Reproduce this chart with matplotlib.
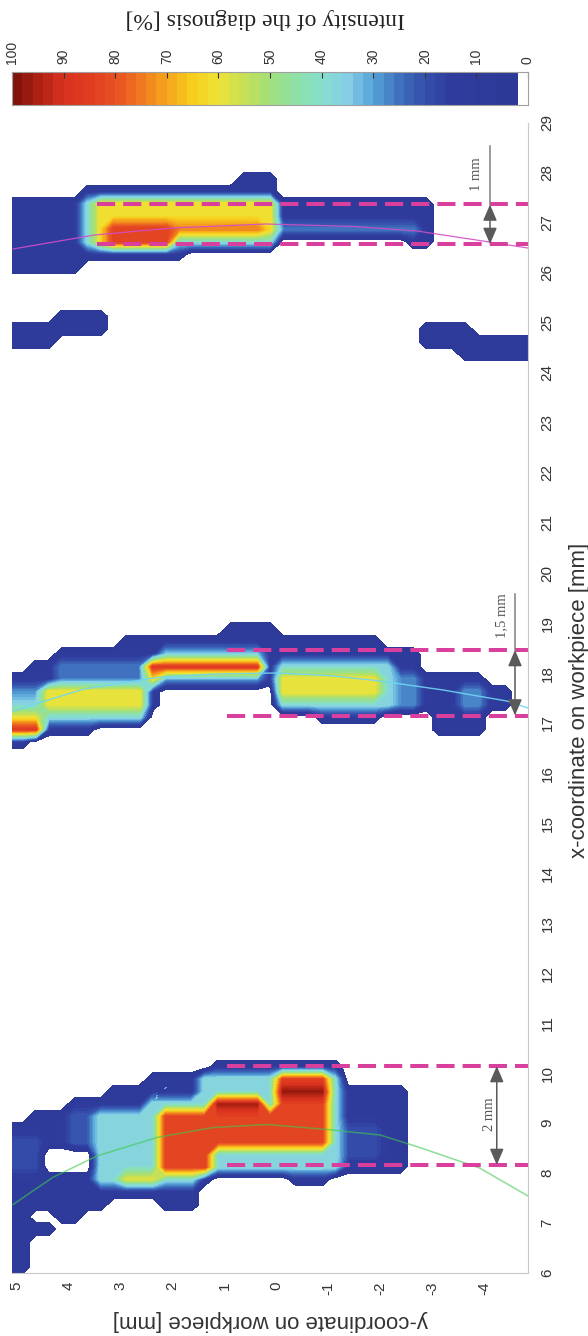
import numpy as np
import matplotlib
matplotlib.use('Agg')
import matplotlib.pyplot as plt
from matplotlib.colors import LinearSegmentedColormap, ListedColormap, BoundaryNorm

plt.rcParams['font.family'] = ['Liberation Sans', 'DejaVu Sans']
plt.rcParams['axes.unicode_minus'] = False

# intensity patches: (x from, x to, y from, y to, intensity %)
weld1_blocks = [
    (6.0, 8.9, 4.65, 5.5, 12), (6.75, 9.2, 4.35, 4.65, 12), (7.0, 9.2, 3.95, 4.35, 12),
    (7.0, 9.45, 3.7, 3.95, 12), (7.25, 9.45, 3.2, 3.7, 12), (7.5, 9.7, 2.5, 3.2, 12),
    (7.5, 10.0, 2.2, 2.5, 12), (7.3, 10.0, 1.45, 2.2, 12), (7.75, 10.0, 1.2, 1.45, 12),
    (8.05, 10.2, -0.26, 1.2, 12), (7.74, 10.2, -0.93, -0.26, 12), (8.05, 10.2, -1.18, -0.93, 12),
    (8.05, 9.7, -2.43, -1.18, 12),
    (7.95, 8.75, 4.55, 5.5, 19), (8.5, 9.3, 3.3, 4.0, 22), (8.3, 9.0, -1.9, -1.1, 19),
    (7.65, 9.3, 2.5, 3.5, 38), (7.65, 9.6, 1.4, 2.5, 38), (8.1, 9.9, 0.06, 1.4, 38),
    (8.1, 10.05, -1.15, 0.06, 38),
    (7.7, 8.1, 2.3, 3.0, 58),
    (8.1, 9.35, 1.3, 2.3, 83), (8.45, 9.3, 0.1, 1.3, 83), (8.45, 9.9, -1.05, 0.1, 83),
    (9.4, 9.85, -1.0, -0.1, 97), (9.3, 9.45, 0.25, 1.35, 95),
]
weld2_blocks = [
    (16.55, 17.9, 4.7, 5.5, 12), (16.75, 18.2, 4.3, 4.7, 12), (16.8, 18.44, 3.6, 4.3, 12),
    (17.0, 18.44, 3.1, 3.6, 12), (17.17, 18.71, 2.2, 3.1, 12), (17.77, 18.71, 0.9, 2.2, 12),
    (17.77, 18.94, 0.1, 0.9, 12), (17.24, 18.65, -0.77, 0.1, 12), (16.97, 18.65, -2.0, -0.77, 12),
    (17.17, 18.5, -2.7, -2.0, 12), (17.17, 17.97, -3.0, -2.7, 12), (16.8, 17.97, -4.1, -3.0, 12),
    (17.17, 17.7, -4.42, -4.1, 12),
    (16.75, 17.5, 4.5, 5.5, 36), (17.0, 17.25, 4.5, 5.5, 58), (16.75, 17.0, 4.6, 5.5, 85),
    (17.5, 17.85, 4.5, 5.5, 28),
    (17.0, 17.8, 2.4, 4.6, 38), (17.25, 17.7, 2.5, 4.5, 60), (17.75, 18.2, 2.5, 4.3, 26),
    (17.7, 18.2, 2.3, 2.6, 60),
    (18.0, 18.25, 0.2, 2.4, 85), (17.75, 18.0, 0.2, 2.3, 28), (18.25, 18.5, 0.3, 2.3, 34),
    (17.25, 18.2, -2.2, 0.1, 38), (17.5, 17.95, -2.1, 0.0, 60),
    (17.25, 17.9, -2.7, -2.0, 28), (17.25, 17.7, -4.1, -3.4, 28),
]
weld3_blocks = [
    (25.97, 27.41, 3.85, 5.5, 12), (26.24, 27.64, 1.75, 3.85, 12), (26.57, 27.64, 0.7, 1.75, 12),
    (26.57, 27.91, 0.06, 0.7, 12), (26.71, 27.4, -2.5, 0.06, 12), (26.5, 27.4, -3.1, -2.5, 12),
    (26.6, 27.4, 0.1, 3.65, 38), (26.85, 27.4, 0.1, 3.6, 62), (26.6, 27.4, 3.2, 3.6, 62),
    (26.5, 27.0, 2.1, 3.2, 84), (26.75, 27.0, 0.2, 2.1, 74), (26.85, 27.1, -2.7, 0.06, 26),
    (24.44, 24.91, 4.15, 5.5, 12), (24.77, 25.17, 3.26, 4.15, 12),
    (24.5, 24.9, -3.87, -2.76, 12), (24.28, 24.64, -5.0, -3.48, 12),
]
empty_holes = [(7.9, 8.5, 3.45, 4.48), (7.05, 7.35, 4.2, 4.85)]

# fitted seam curves (y, x)
fit1_y = [5.06, 4.3, 3.45, 2.3, 1.22, 0.18, -0.97, -1.99, -2.75, -3.9, -4.83]
fit1_x = [7.37, 7.91, 8.34, 8.71, 8.91, 8.97, 8.87, 8.76, 8.51, 8.1, 7.54]
fit2_y = [5.06, 3.7, 2.3, 1.2, 0.0, -1.0, -1.99, -3.2, -4.42, -4.83]
fit2_x = [17.24, 17.68, 17.91, 17.98, 18.0, 17.95, 17.84, 17.66, 17.44, 17.3]
fit3_y = [5.06, 3.5, 1.99, 0.2, -1.5, -2.7, -3.9, -4.83]
fit3_x = [26.48, 26.76, 26.9, 26.98, 26.93, 26.84, 26.65, 26.5]

# dashed seam limits and dimension arrows
seam_lo = [8.16, 17.15, 26.58]
seam_hi = [10.14, 18.46, 27.37]
seam_from_y = [0.95, 0.95, 3.45]
arrow_y = [-4.23, -4.58, -4.1]
arrow_tail = [10.14, 19.58, 28.54]
dim_text = ['2 mm', '1,5 mm', '1 mm']
dim_text_y = [-4.1, -4.33, -3.85]
dim_text_x = [9.18, 19.14, 27.98]

cbar_ticks = list(range(0, 101, 10))

anchors = [
    (0.00, '#2c3894'), (0.15, '#2f3c9e'), (0.20, '#3550ac'), (0.25, '#3f70bd'),
    (0.30, '#56a2d8'), (0.35, '#86cfe6'), (0.40, '#86e0cc'), (0.45, '#8ee0a8'),
    (0.50, '#a2e07c'), (0.55, '#c8e055'), (0.60, '#eee437'), (0.65, '#f8cf1c'),
    (0.70, '#f6a41c'), (0.75, '#f07a20'), (0.80, '#e85222'), (0.85, '#e03c20'),
    (0.90, '#d83220'), (0.95, '#b02214'), (1.00, '#7a1008'),
]
cmap = LinearSegmentedColormap.from_list('diag', anchors)

grid_x = np.arange(5.625, 29.6, 0.25)
grid_y = np.arange(-5.375, 5.7, 0.25)
GX, GY = np.meshgrid(grid_x, grid_y, indexing='ij')
Z = np.zeros(GX.shape)
for x0, x1, y0, y1, v in weld1_blocks + weld2_blocks + weld3_blocks:
    m = (GX > x0) & (GX < x1) & (GY > y0) & (GY < y1)
    Z[m] = np.maximum(Z[m], v)
for x0, x1, y0, y1 in empty_holes:
    m = (GX > x0) & (GX < x1) & (GY > y0) & (GY < y1)
    Z[m] = 0

map_levels = [0] + list(range(6, 101, 2))
map_colors = ['white'] + [cmap((a + b) / 200) for a, b in zip(map_levels[1:-1], map_levels[2:])]

fig = plt.figure(figsize=(5.88, 13.36), dpi=100)
ax = fig.add_axes([12 / 588, 63 / 1336, 516 / 588, 1150 / 1336])
cs = ax.contourf(GY, GX, Z, levels=map_levels, colors=map_colors)
cs.set_edgecolor('face')
cs.set_linewidth(0.5)

ax.plot(fit1_y, fit1_x, color='#40c850', alpha=0.6, lw=1.1)
ax.plot(fit2_y, fit2_x, color='#6fd6f2', alpha=0.9, lw=1.0)
ax.plot(fit3_y, fit3_x, color='#d24ec8', alpha=0.9, lw=0.9)

for lo, hi, y0 in zip(seam_lo, seam_hi, seam_from_y):
    for xv in (lo, hi):
        ax.plot([y0, -4.83], [xv, xv], color='#d9409e', lw=2.9, ls=(0, (4.5, 2)),
                solid_capstyle='butt')

for lo, hi, ay, tail in zip(seam_lo, seam_hi, arrow_y, arrow_tail):
    if tail > hi:
        ax.plot([ay, ay], [hi, tail], color='#808080', lw=1.1)
    ax.annotate('', xy=(ay, hi), xytext=(ay, lo),
                arrowprops=dict(arrowstyle='<|-|>,head_length=0.7,head_width=0.3',
                                color='#5a5a5a', lw=1.1, shrinkA=0, shrinkB=0,
                                mutation_scale=14))
for t, ty, tx in zip(dim_text, dim_text_y, dim_text_x):
    ax.text(ty, tx, t, rotation=90, ha='center', va='center', fontsize=10.5,
            color='#555555', family=['Liberation Serif', 'DejaVu Serif'])

ax.set_xlim(5.08, -4.83)
ax.set_ylim(6, 29)
yt = list(range(5, -5, -1))
ax.set_xticks(yt)
ax.set_xticklabels([str(v) for v in yt], rotation=90)
ax.yaxis.tick_right()
ax.set_yticks(range(6, 30))
ax.set_yticklabels([str(v) for v in range(6, 30)], rotation=90, va='center')
ax.tick_params(axis='x', length=0, pad=6, labelsize=11, colors='#333333')
ax.tick_params(axis='y', length=0, pad=9, labelsize=11, colors='#333333')
for s in ('top', 'left'):
    ax.spines[s].set_visible(False)
for s in ('right', 'bottom'):
    ax.spines[s].set_color('#c8c8c8')
    ax.spines[s].set_linewidth(0.8)

fig.text(580 / 588, 1 - 700 / 1336, 'x-coordinate on workpiece [mm]', rotation=90,
         ha='center', va='center', fontsize=16, color='#333333')
fig.text(270 / 588, 1 - 1320 / 1336, 'y-coordinate on workpiece [mm]', rotation=180,
         ha='center', va='center', fontsize=16, color='#333333')

# colour scale, drawn reversed like the rotated original
cb_levels = np.arange(0, 101, 2)
cb_colors = ['white'] + [cmap((a + 1) / 100) for a in cb_levels[1:-1]]
cb_cmap = ListedColormap(cb_colors)
cb_norm = BoundaryNorm(cb_levels, cb_cmap.N)
cax = fig.add_axes([12 / 588, 1 - 105 / 1336, 516 / 588, 33 / 1336])
cax.pcolormesh(cb_levels, [0, 1], ((cb_levels[:-1] + cb_levels[1:]) / 2)[None, :],
               cmap=cb_cmap, norm=cb_norm, shading='flat')
cax.set_xlim(100, 0)
cax.set_ylim(0, 1)
cax.set_yticks([])
cax.xaxis.tick_top()
cax.set_xticks(cbar_ticks)
cax.set_xticklabels([str(v) for v in cbar_ticks], rotation=90)
cax.tick_params(axis='x', direction='in', length=4, width=0.8, pad=6, labelsize=10,
                colors='#333333')
for s in cax.spines.values():
    s.set_color('#a0a0a0')
    s.set_linewidth(0.8)
fig.text(265 / 588, 1 - 18 / 1336, 'Intensity of the diagnosis [%]', rotation=180,
         ha='center', va='center', fontsize=17, color='#222222',
         family=['Liberation Serif', 'DejaVu Serif'])

fig.savefig('out.png', dpi=100)
